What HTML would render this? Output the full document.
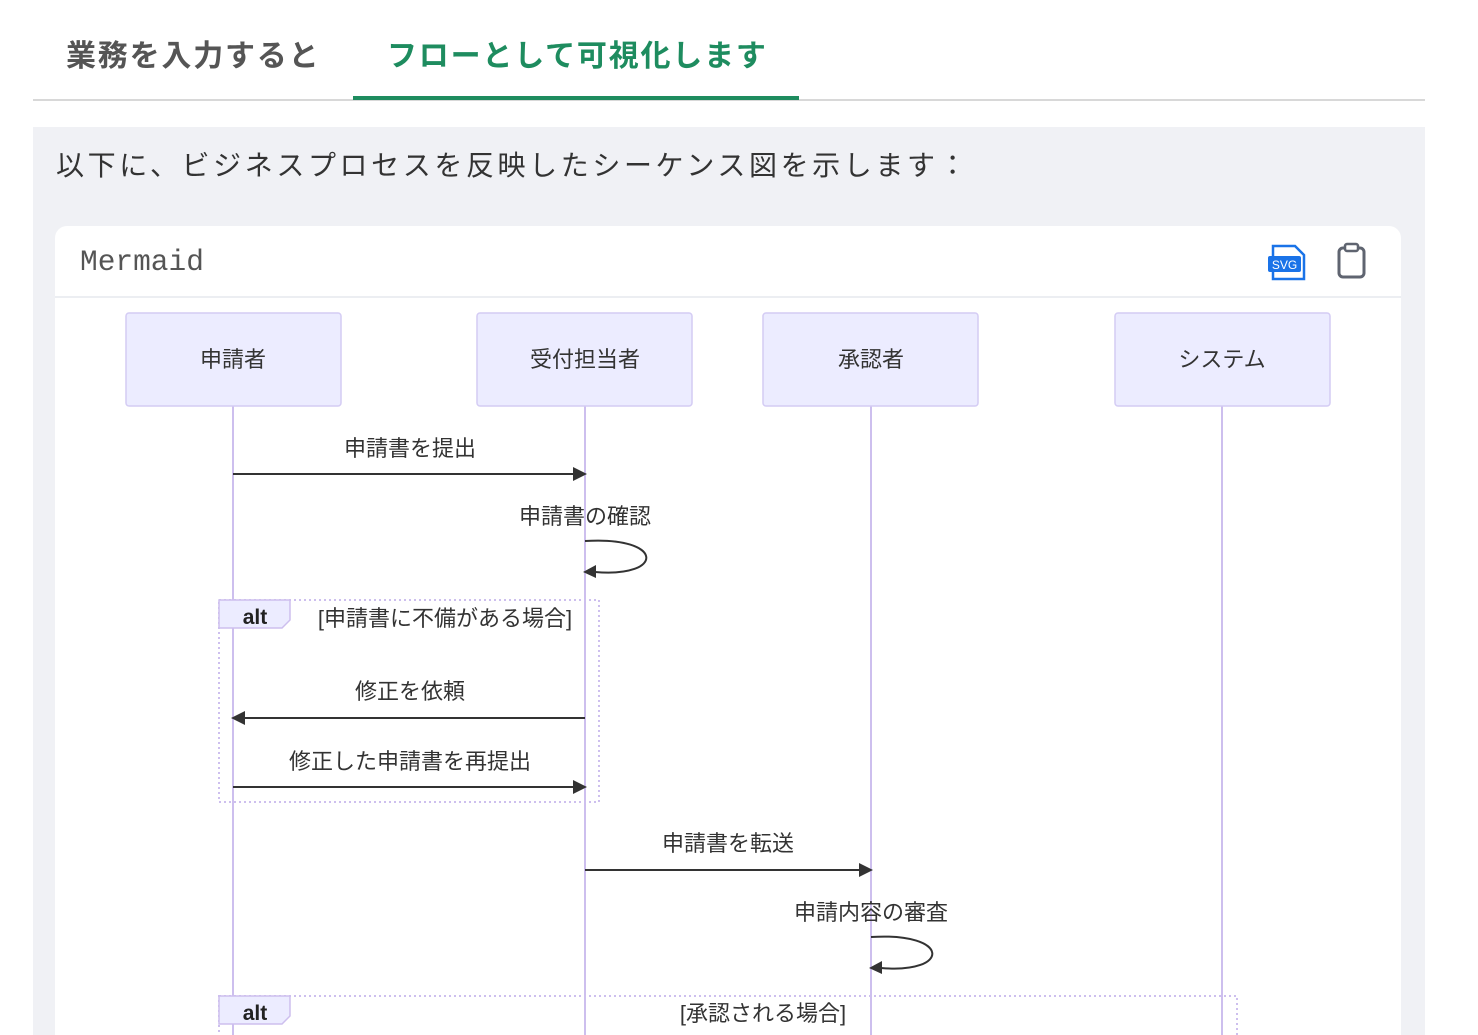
<!DOCTYPE html>
<html><head><meta charset="utf-8"><style>
body{margin:0;width:1478px;height:1035px;overflow:hidden;background:#fff;font-family:"Liberation Sans","Noto Sans CJK JP",sans-serif;}
</style></head><body>
<svg width="1478" height="1035" xmlns="http://www.w3.org/2000/svg" style="position:absolute;left:0;top:0" font-family="Liberation Sans, Noto Sans CJK JP, sans-serif">
<text x="66" y="66" font-size="30" font-weight="bold" fill="#555" letter-spacing="1.8">業務を入力すると</text>
<text x="387" y="66" font-size="30" font-weight="bold" fill="#1e8c5f" letter-spacing="1.8">フローとして可視化します</text>
<rect x="33" y="99" width="1392" height="2" fill="#d8d8d8"/>
<rect x="353" y="96" width="446" height="4" fill="#1e8c5f"/>
<rect x="33" y="127" width="1392" height="920" fill="#f0f1f5"/>
<text x="56" y="175" font-size="28" fill="#333" letter-spacing="3.6">以下に、ビジネスプロセスを反映したシーケンス図を示します：</text>
<rect x="55" y="226" width="1346" height="840" rx="12" fill="#fff"/>
<rect x="55" y="296" width="1346" height="2" fill="#eceef2"/>
<text x="80" y="270" font-size="29.5" font-family="Liberation Mono, monospace" fill="#555">Mermaid</text>
<path d="M1273 246 h22 l9 9 v24 h-31 z" fill="none" stroke="#1a73e8" stroke-width="2.5"/>
<rect x="1268" y="256" width="33" height="16" rx="2" fill="#1a73e8"/>
<text x="1284.5" y="269" font-size="12" fill="#fff" text-anchor="middle">SVG</text>
<rect x="1339" y="248" width="25" height="29" rx="4" fill="none" stroke="#5f6470" stroke-width="3"/>
<rect x="1345" y="244" width="13" height="7" rx="2" fill="#fff" stroke="#5f6470" stroke-width="2.5"/>
<g stroke="#cdbfee" stroke-width="2">
<line x1="233" y1="406" x2="233" y2="1035"/><line x1="585" y1="406" x2="585" y2="1035"/>
<line x1="871" y1="406" x2="871" y2="1035"/><line x1="1222" y1="406" x2="1222" y2="1035"/>
</g>
<g fill="#ececff" stroke="#d4ccf4" stroke-width="1.5">
<rect x="126" y="313" width="215" height="93" rx="3"/><rect x="477" y="313" width="215" height="93" rx="3"/>
<rect x="763" y="313" width="215" height="93" rx="3"/><rect x="1115" y="313" width="215" height="93" rx="3"/>
</g>
<g font-size="22" fill="#333" text-anchor="middle">
<text x="233" y="367">申請者</text><text x="585" y="367">受付担当者</text><text x="871" y="367">承認者</text><text x="1222" y="367">システム</text>
<text x="410" y="456">申請書を提出</text>
<text x="585" y="524">申請書の確認</text>
<text x="410" y="699">修正を依頼</text>
<text x="410" y="769">修正した申請書を再提出</text>
<text x="728" y="851">申請書を転送</text>
<text x="871" y="920">申請内容の審査</text>
<text x="445" y="626">[申請書に不備がある場合]</text>
<text x="763" y="1021">[承認される場合]</text>
</g>
<g stroke="#333" stroke-width="2" fill="none">
<line x1="233" y1="474" x2="575" y2="474"/>
<path d="M585 541 C665 536 665 578 595 572"/>
<line x1="245" y1="718" x2="585" y2="718"/>
<line x1="233" y1="787" x2="575" y2="787"/>
<line x1="585" y1="870" x2="861" y2="870"/>
<path d="M871 937 C951 932 951 974 881 968"/>
</g>
<g fill="#333">
<path d="M587 474 l-14 -7 v14z"/><path d="M583 572 l13 -7 v13z"/>
<path d="M231 718 l14 -7 v14z"/><path d="M587 787 l-14 -7 v14z"/>
<path d="M873 870 l-14 -7 v14z"/><path d="M869 968 l13 -7 v13z"/>
</g>
<g fill="none" stroke="#cdbfee" stroke-width="2" stroke-dasharray="2 3">
<rect x="219" y="600" width="380" height="202"/>
<rect x="219" y="996" width="1018" height="60"/>
</g>
<path d="M219 600 h71 v20 l-8 8 h-63z" fill="#ececff" stroke="#cdbfee" stroke-width="1.5"/>
<path d="M219 996 h71 v20 l-8 8 h-63z" fill="#ececff" stroke="#cdbfee" stroke-width="1.5"/>
<text x="255" y="624" font-size="21" font-weight="bold" fill="#222" text-anchor="middle">alt</text>
<text x="255" y="1020" font-size="21" font-weight="bold" fill="#222" text-anchor="middle">alt</text>
</svg>
</body></html>
